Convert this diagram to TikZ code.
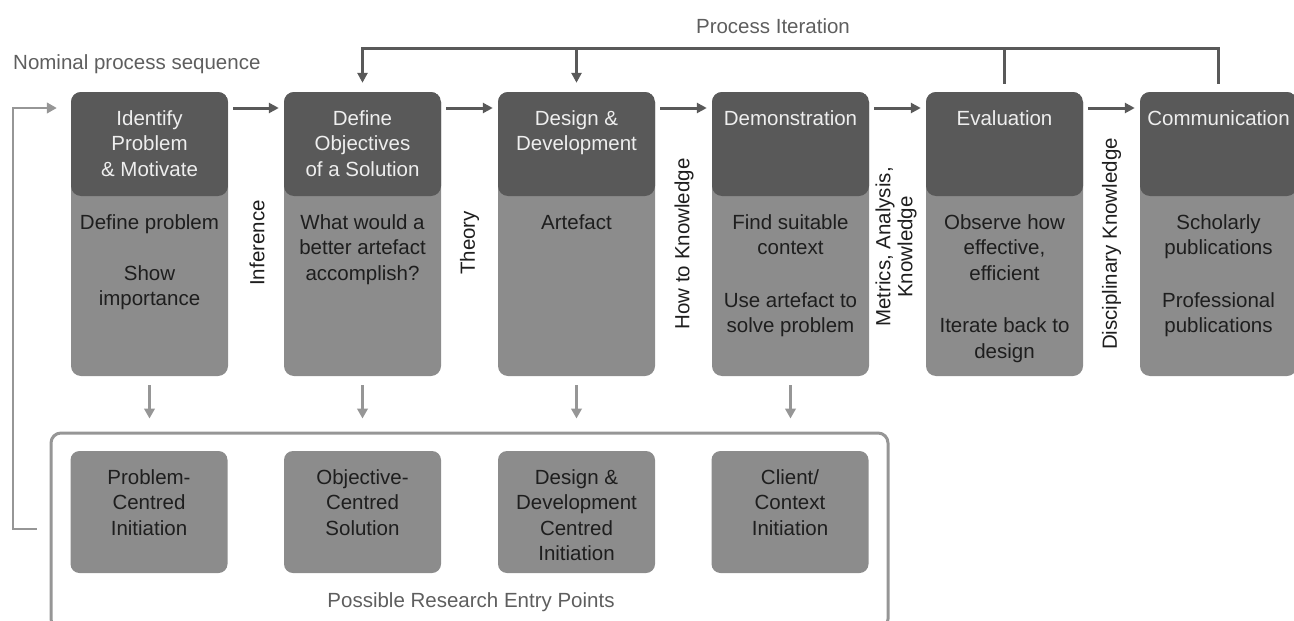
\documentclass[tikz,border=0pt]{standalone}
\usepackage{fontspec}
\setmainfont{Liberation Sans}
\usetikzlibrary{arrows.meta,calc}

\definecolor{hdr}{HTML}{595959}
\definecolor{bdy}{HTML}{8C8C8C}
\definecolor{ink}{HTML}{1E1E1E}
\definecolor{lbl}{HTML}{5E5E5E}
\definecolor{lite}{HTML}{969696}
\definecolor{headtxt}{HTML}{EEEEEE}

% strut that fixes the height of a first text line
\newcommand{\firstln}{\rule{0pt}{20pt}}

\begin{document}
\begin{tikzpicture}[x=1pt,y=-1pt,
  txt/.style={font=\fontsize{20.5}{25.5}\selectfont, inner sep=0pt, align=center},
  toptxt/.style={txt, anchor=north},
  headtext/.style={toptxt, text=headtxt},
  bodytext/.style={toptxt, text=ink},
  rlbl/.style={txt, rotate=90, text=ink},
  glbl/.style={txt, text=lbl},
  stage/.style={rounded corners=10pt, fill=bdy, minimum width=157pt,
    minimum height=284pt, inner sep=0pt,
    path picture={\fill[hdr] (path picture bounding box.north west)
      rectangle ([yshift=-104pt]path picture bounding box.north east);}},
  entrybox/.style={rounded corners=9pt, fill=bdy, minimum width=157pt,
    minimum height=122pt, inner sep=0pt},
  frame/.style={draw=lite, line width=3pt, rounded corners=10pt,
    minimum width=837pt, minimum height=196pt, inner sep=0pt},
  dline/.style={draw=hdr, line width=3pt},
  darr/.style={dline, -{Triangle[length=10pt,width=10pt]}},
  lline/.style={draw=lite, line width=2.7pt},
  larr/.style={lline, -{Triangle[length=10pt,width=10.5pt]}}
]
\path[use as bounding box, clip] (0,0) rectangle (1294,621);

% process stages
\foreach \n/\cx in {1/149.5,2/362.5,3/576.5,4/790.5,5/1004.5,6/1218.5}
  \node[stage] (s\n) at (\cx,234) {};

% stage titles
\node[headtext] (h1) at (149.5,105) {\firstln Identify\\Problem\\\& Motivate};
\node[headtext] (h2) at (362.5,105) {\firstln Define\\Objectives\\of a Solution};
\node[headtext] (h3) at (576.5,105) {\firstln Design \&\\Development};
\node[headtext] (h4) at (790.5,105) {\firstln Demonstration};
\node[headtext] (h5) at (1004.5,105) {\firstln Evaluation};
\node[headtext] (h6) at (1218.5,105) {\firstln Communication};

% stage activities
\node[bodytext] (b1) at (149.5,209) {\firstln Define problem\\[25.5pt]Show\\importance};
\node[bodytext] (b2) at (362.5,209) {\firstln What would a\\better artefact\\accomplish?};
\node[bodytext] (b3) at (576.5,209) {\firstln Artefact};
\node[bodytext] (b4) at (790.5,209) {\firstln Find suitable\\context\\[27pt]Use artefact to\\solve problem};
\node[bodytext] (b5) at (1004.5,209) {\firstln Observe how\\effective,\\efficient\\[27pt]Iterate back to\\design};
\node[bodytext] (b6) at (1218.5,209) {\firstln Scholarly\\publications\\[27pt]Professional\\publications};

% knowledge passed between stages
\node[rlbl] (kinf) at (257,243) {Inference};
\node[rlbl] (kthy) at (469.5,243) {Theory};
\node[rlbl] (khtk) at (684,244) {How to Knowledge};
\node[rlbl, font=\fontsize{20.5}{22}\selectfont] (kmak) at (896,247) {Metrics, Analysis,\\Knowledge};
\node[rlbl] (kdis) at (1111.5,244) {Disciplinary Knowledge};

% nominal sequence arrows
\foreach \a/\b in {1/2,2/3,3/4,4/5,5/6}
  \draw[darr] ($(s\a.east|-0,108)+(5,0)$) -- ($(s\b.west|-0,108)+(-5,0)$);

% process iteration feedback
\draw[dline, line cap=rect] (s2.north|-0,48) -- (s6.north|-0,48);
\draw[dline] ($(s5.north)+(0,-8)$) -- (s5.north|-0,48);
\draw[dline] ($(s6.north)+(0,-8)$) -- (s6.north|-0,48);
\draw[darr] (s2.north|-0,48) -- ($(s2.north)+(0,-9)$);
\draw[darr] (s3.north|-0,48) -- ($(s3.north)+(0,-9)$);

\node[glbl, anchor=base] (iterlbl) at (773,33) {Process Iteration};
\node[glbl, anchor=base west] (nomlbl) at (13,69) {Nominal process sequence};

% research entry points
\node[frame] (entry) at (469.5,531) {};
\foreach \n/\cx in {1/149,2/362.5,3/576.5,4/790}
  \node[entrybox] (e\n) at (\cx,512) {};
\node[bodytext] (et1) at (149,464) {\firstln Problem-\\Centred\\Initiation};
\node[bodytext] (et2) at (362.5,464) {\firstln Objective-\\Centred\\Solution};
\node[bodytext] (et3) at (576.5,464) {\firstln Design \&\\Development\\Centred\\Initiation};
\node[bodytext] (et4) at (790,464) {\firstln Client/\\Context\\Initiation};
\node[glbl, anchor=base] (entrylbl) at (471,607) {Possible Research Entry Points};

\foreach \n in {1,2,3,4}
  \draw[larr] ($(s\n.south)+(0,9)$) -- ($(s\n.south|-entry.north)+(0,-13)$);

% loop back to the start of the sequence
\draw[larr] ($(entry.west|-0,529)+(-13,0)$) -- (13,529) -- (13,108)
  -- ($(s1.west|-0,108)+(-14,0)$);
\end{tikzpicture}
\end{document}
